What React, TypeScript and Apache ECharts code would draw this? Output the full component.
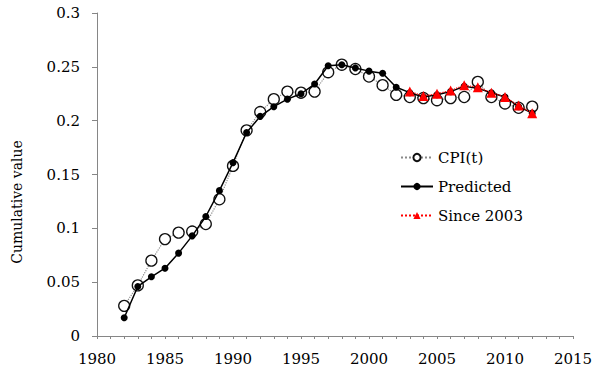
import React, { useEffect, useRef } from "react";
import * as echarts from "echarts";

const years = [1982, 1983, 1984, 1985, 1986, 1987, 1988, 1989, 1990, 1991, 1992, 1993, 1994, 1995, 1996, 1997, 1998, 1999, 2000, 2001, 2002, 2003, 2004, 2005, 2006, 2007, 2008, 2009, 2010, 2011, 2012];
const cpiValues = [0.028, 0.047, 0.070, 0.090, 0.096, 0.097, 0.104, 0.127, 0.158, 0.191, 0.208, 0.220, 0.227, 0.226, 0.227, 0.245, 0.252, 0.248, 0.241, 0.233, 0.224, 0.222, 0.221, 0.219, 0.221, 0.222, 0.236, 0.222, 0.216, 0.212, 0.213];
const predictedValues = [0.017, 0.046, 0.055, 0.063, 0.077, 0.093, 0.111, 0.135, 0.161, 0.189, 0.204, 0.213, 0.220, 0.225, 0.234, 0.251, 0.252, 0.249, 0.246, 0.244, 0.231, 0.226, 0.222, 0.224, 0.227, 0.232, 0.230, 0.226, 0.222, 0.213, 0.207];
const sinceYears = [2003, 2004, 2005, 2006, 2007, 2008, 2009, 2010, 2011, 2012];
const sinceValues = [0.227, 0.223, 0.225, 0.228, 0.233, 0.231, 0.226, 0.222, 0.214, 0.207];
const seriesNames = ["CPI(t)", "Predicted", "Since 2003"];
const yAxisTitle = "Cumulative value";

const FONT = "DejaVu Serif";

export default function App() {
  const ref = useRef<HTMLDivElement>(null);
  useEffect(() => {
    if (!ref.current) return;
    const chart = echarts.init(ref.current, null, { renderer: "svg" });
    const axisGrey = "#868686";
    chart.setOption({
      animation: false,
      backgroundColor: "#ffffff",
      textStyle: { fontFamily: FONT },
      grid: { left: 97, right: 29, top: 13, bottom: 46, containLabel: false },
      xAxis: {
        type: "value",
        min: 1980,
        max: 2015,
        interval: 5,
        axisLine: { show: true, lineStyle: { color: axisGrey, width: 1 } },
        axisTick: { show: true, inside: false, length: 3, lineStyle: { color: axisGrey } },
        minorTick: { show: true, splitNumber: 5, length: 3, lineStyle: { color: axisGrey } },
        splitLine: { show: false },
        axisLabel: {
          color: "#000",
          fontFamily: FONT,
          fontSize: 15,
          margin: 15,
          formatter: (v: number) => String(v),
        },
      },
      yAxis: {
        type: "value",
        min: 0,
        max: 0.3,
        interval: 0.05,
        axisLine: { show: true, lineStyle: { color: axisGrey, width: 1 } },
        axisTick: { show: true, inside: false, length: 5, lineStyle: { color: axisGrey } },
        splitLine: { show: false },
        axisLabel: { color: "#000", fontFamily: FONT, fontSize: 15, margin: 17 },
      },
      legend: {
        orient: "vertical",
        left: 400,
        top: 150,
        padding: 0,
        itemWidth: 32,
        itemHeight: 9,
        itemGap: 14,
        textStyle: { color: "#000", fontFamily: FONT, fontSize: 15 },
        data: seriesNames,
      },
      graphic: [
        {
          type: "text",
          x: 17,
          y: 202,
          rotation: Math.PI / 2,
          style: {
            text: yAxisTitle,
            fontFamily: FONT,
            fontSize: 14,
            fill: "#000",
            align: "center",
            verticalAlign: "middle",
          },
        },
      ],
      series: [
        {
          name: seriesNames[0],
          type: "line",
          z: 2,
          data: years.map((y, i) => [y, cpiValues[i]]),
          symbol: "circle",
          symbolSize: 11,
          showAllSymbol: true,
          lineStyle: { color: "#8a8a8a", width: 1.2, type: "dotted" },
          itemStyle: { color: "#ffffff", borderColor: "#111", borderWidth: 1.3 },
        },
        {
          name: seriesNames[1],
          type: "line",
          z: 3,
          data: years.map((y, i) => [y, predictedValues[i]]),
          symbol: "circle",
          symbolSize: 7,
          showAllSymbol: true,
          lineStyle: { color: "#000", width: 1.5, type: "solid" },
          itemStyle: { color: "#000" },
        },
        {
          name: seriesNames[2],
          type: "line",
          z: 4,
          data: sinceYears.map((y, i) => [y, sinceValues[i]]),
          symbol: "triangle",
          symbolSize: 10,
          showAllSymbol: true,
          lineStyle: { color: "#ff0000", width: 1.2, type: "dotted" },
          itemStyle: { color: "#ff0000" },
        },
      ],
    });
    return () => chart.dispose();
  }, []);
  return (
    <div
      ref={ref}
      style={{ position: "fixed", left: 0, top: 0, width: 602, height: 382, background: "#fff" }}
    />
  );
}
